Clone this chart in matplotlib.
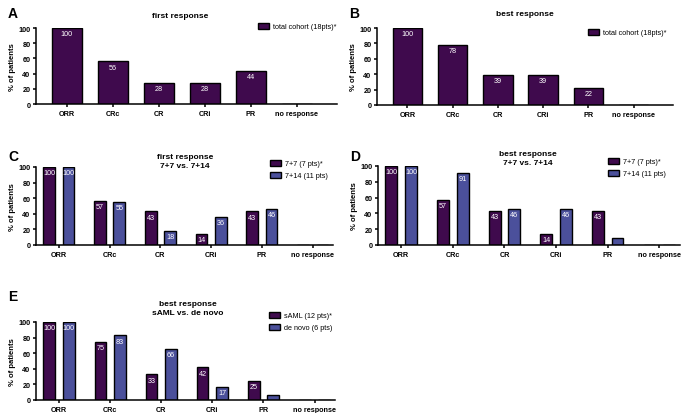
import matplotlib.pyplot as plt
import numpy as np

plt.rcParams['font.family'] = ['Liberation Sans', 'DejaVu Sans']

cats = ['ORR', 'CRc', 'CR', 'CRi', 'PR', 'no response']

# panel A / B - total cohort
first_total = [100, 56, 28, 28, 44, 0]
best_total = [100, 78, 39, 39, 22, 0]

# panel C / D - 7+7 vs 7+14
first_77 = [100, 57, 43, 14, 43, 0]
first_714 = [100, 55, 18, 36, 46, 0]
best_77 = [100, 57, 43, 14, 43, 0]
best_714 = [100, 91, 46, 46, 9, 0]

# panel E - sAML vs de novo
best_saml = [100, 75, 33, 42, 25, 0]
best_denovo = [100, 83, 66, 17, 7, 0]

purple = '#3f0a4d'
blue = '#4b509b'

W, H = 685, 414
fig = plt.figure(figsize=(W / 100, H / 100), dpi=100)


def px_axes(l, r, t, b):
    return fig.add_axes([l / W, 1 - b / H, (r - l) / W, (b - t) / H])


def style(ax, xlim):
    ax.set_ylim(0, 100)
    ax.set_xlim(*xlim)
    ax.set_yticks([0, 20, 40, 60, 80, 100])
    ax.set_xticks(np.arange(len(cats)))
    ax.set_xticklabels(cats, fontweight='bold', fontsize=5.2)
    for lab in ax.get_yticklabels():
        lab.set_fontweight('bold')
        lab.set_fontsize(5.2)
    ax.spines['top'].set_visible(False)
    ax.spines['right'].set_visible(False)
    ax.spines['left'].set_linewidth(1.1)
    ax.spines['bottom'].set_linewidth(1.1)
    ax.tick_params(width=1.1, length=2.5, pad=1.5)
    ax.set_ylabel('% of patients', fontweight='bold', fontsize=5.5, labelpad=2)


def bars(ax, x, vals, w, color, label):
    b = ax.bar(x, vals, w, color=color, edgecolor='black', linewidth=1.0, label=label)
    for xi, v in zip(x, vals):
        if v >= 10:
            ax.text(xi, v - 3, str(v), ha='center', va='top', color='white', fontsize=5.2)
    return b


def legend(ax, lx, ly):
    ax.legend(loc='upper left', bbox_to_anchor=(lx / W, 1 - ly / H), bbox_transform=fig.transFigure,
              frameon=False, fontsize=5.2, handlelength=1.6, handleheight=0.9, handletextpad=0.5,
              borderaxespad=0, labelspacing=0.6)


x = np.arange(len(cats))

# A
axA = px_axes(36, 337, 29, 105)
bars(axA, x, first_total, 0.65, purple, 'total cohort (18pts)*')
style(axA, (-0.67, 5.87))
fig.text(180 / W, 1 - 16 / H, 'first response', fontweight='bold', fontsize=6, ha='center', va='center')
legend(axA, 255, 21)
fig.text(8 / W, 1 - 14 / H, 'A', fontsize=10, fontweight='bold', va='center')

# B
axB = px_axes(377, 673, 29, 106)
bars(axB, x, best_total, 0.65, purple, 'total cohort (18pts)*')
style(axB, (-0.67, 5.87))
fig.text(525 / W, 1 - 15 / H, 'best response', fontweight='bold', fontsize=6, ha='center', va='center')
legend(axB, 585, 27)
fig.text(349 / W, 1 - 14 / H, 'B', fontsize=10, fontweight='bold', va='center')

# C, D, E grouped
grouped = [
    ((36, 333, 168, 246), first_77, first_714, '7+7 (7 pts)*', '7+14 (11 pts)',
     'first response\n7+7 vs. 7+14', 'C', (8, 157), (267, 158), (185, 162)),
    ((378, 680, 167, 246), best_77, best_714, '7+7 (7 pts)*', '7+14 (11 pts)',
     'best response\n7+7 vs. 7+14', 'D', (350, 157), (605, 156), (528, 159)),
    ((36, 335, 323, 401), best_saml, best_denovo, 'sAML (12 pts)*', 'de novo (6 pts)',
     'best response\nsAML vs. de novo', 'E', (8, 297), (266, 310), (188, 309)),
]

for box, v1, v2, l1, l2, title, letter, lpos, legpos, tpos in grouped:
    ax = px_axes(*box)
    bars(ax, x - 0.19, v1, 0.23, purple, l1)
    bars(ax, x + 0.19, v2, 0.23, blue, l2)
    style(ax, (-0.45, 5.4))
    fig.text(tpos[0] / W, 1 - tpos[1] / H, title, fontweight='bold', fontsize=6,
             ha='center', va='center', linespacing=1.3)
    legend(ax, *legpos)
    fig.text(lpos[0] / W, 1 - lpos[1] / H, letter, fontsize=10, fontweight='bold', va='center')

fig.savefig('out.png', dpi=100)
